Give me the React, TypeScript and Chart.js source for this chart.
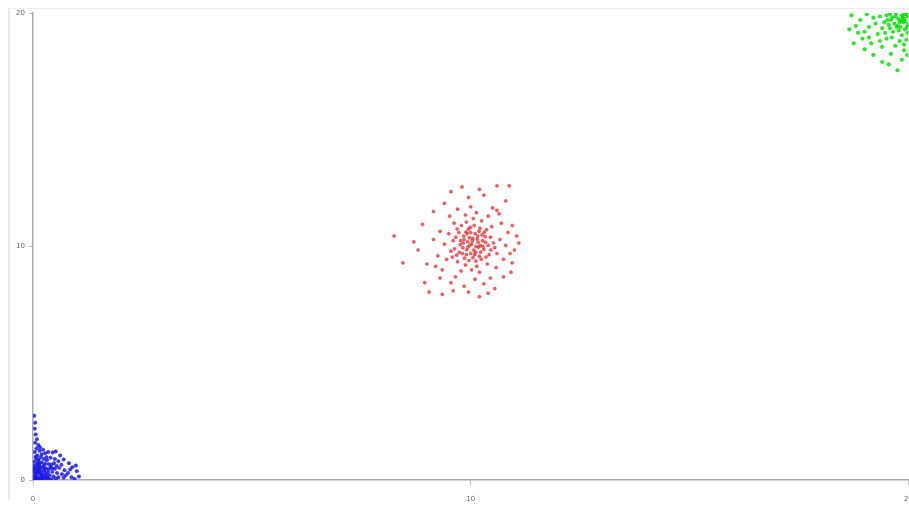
import React, { useEffect, useRef } from "react";
import { Chart, registerables } from "chart.js";

Chart.register(...registerables);

const axisMin = 0;
const axisMax = 20;
const tickStep = 10;

const redPoints: number[][] = [
  [10.02,10.11],[9.91,9.87],[10.15,10.32],[9.84,10.45],[10.23,9.76],[10.05,9.52],[9.76,10.08],[10.31,10.61],[9.95,10.74],[10.12,9.38],
  [9.68,9.63],[10.4,10.05],[10.08,10.9],[9.88,9.21],[10.27,10.25],[9.97,10.38],[10.18,9.97],[9.82,9.95],[10.35,9.55],[9.73,10.6],
  [10.1,10.55],[10.0,9.7],[9.93,10.2],[10.21,10.78],[9.6,10.25],[10.45,10.4],[9.86,9.5],[10.14,9.15],[10.3,9.88],[9.79,10.9],
  [10.52,10.15],[9.55,9.8],[10.06,11.2],[9.9,11.05],[10.25,11.1],[9.7,9.35],[10.38,9.25],[10.6,9.7],[9.5,10.55],[10.02,9.0],
  [9.78,8.95],[10.2,8.9],[10.48,10.85],[9.62,11.0],[10.67,10.3],[9.45,9.45],[10.12,10.0],[9.98,10.05],[10.04,10.25],[9.92,10.55],
  [10.16,10.45],[10.28,10.0],[9.85,10.3],[10.09,9.65],[9.96,9.4],[10.33,10.42],[9.74,9.75],[10.19,10.65],[10.42,9.65],[9.66,10.4],
  [10.55,9.95],[9.58,9.55],[10.0,10.6],[10.24,9.45],[9.83,10.15],[10.36,10.72],[9.69,10.75],[10.13,11.45],[9.88,11.35],[10.4,11.3],
  [9.52,11.3],[10.7,11.0],[10.75,9.45],[9.4,10.1],[9.35,9.0],[10.58,9.1],[10.1,8.6],[9.65,8.7],[10.45,8.65],[9.3,10.65],
  [10.85,10.6],[10.9,9.7],[9.25,9.6],[10.0,11.7],[10.5,11.65],[9.7,11.6],[9.15,10.3],[10.8,10.05],[9.2,9.15],[10.95,10.9],
  [10.65,11.4],[9.55,8.45],[10.3,8.4],[9.85,8.3],[10.05,10.35],[9.94,9.98],[10.17,10.18],[10.07,9.85],[9.89,10.62],[10.26,10.5],
  [9.81,9.7],[10.22,10.05],[10.11,9.75],[9.99,10.82],[10.34,10.18],[9.77,10.25],[10.46,9.85],[9.63,9.9],[10.2,9.58],[9.9,9.65],
  [8.25,10.45],[8.45,9.3],[8.95,8.45],[9.05,8.05],[9.35,7.95],[9.95,8.05],[10.2,7.85],[10.4,8.0],[10.6,12.6],[10.88,12.6],
  [9.55,12.35],[9.95,12.1],[10.3,12.2],[11.05,10.45],[11.1,10.15],[10.95,9.3],[8.9,10.95],[9.15,11.5],[9.4,11.85],[10.8,11.95],
  [10.6,11.55],[9.0,9.25],[8.8,9.85],[9.3,8.65],[10.75,8.7],[10.92,8.9],[11.0,9.85],[10.2,12.45],[9.8,12.55],[8.7,10.2],
  [10.55,8.2],[9.6,8.1]
];

const bluePoints: number[][] = [
  [0.03,2.75],[0.05,2.45],[0.04,2.2],[0.06,1.95],[0.09,1.75],[0.05,1.6],[0.12,1.5],[0.08,1.35],[0.15,1.25],[0.04,1.2],
  [0.2,1.1],[0.1,1.05],[0.28,1.15],[0.35,1.2],[0.45,1.18],[0.52,1.22],[0.62,1.05],[0.18,0.98],[0.07,0.92],[0.25,0.9],
  [0.32,0.85],[0.4,0.95],[0.12,0.82],[0.03,0.78],[0.2,0.75],[0.28,0.7],[0.36,0.68],[0.48,0.72],[0.58,0.8],[0.7,0.88],
  [0.82,0.72],[0.9,0.55],[0.08,0.65],[0.15,0.6],[0.22,0.55],[0.3,0.5],[0.4,0.55],[0.5,0.48],[0.6,0.52],[0.72,0.42],
  [0.05,0.5],[0.12,0.45],[0.18,0.4],[0.26,0.38],[0.34,0.32],[0.44,0.35],[0.55,0.3],[0.66,0.25],[0.8,0.3],[1.0,0.38],
  [0.03,0.35],[0.1,0.3],[0.16,0.25],[0.22,0.22],[0.3,0.18],[0.38,0.2],[0.47,0.15],[0.58,0.12],[0.7,0.1],[0.88,0.12],
  [0.95,0.05],[0.04,0.2],[0.08,0.15],[0.14,0.1],[0.2,0.08],[0.27,0.05],[0.35,0.07],[0.42,0.03],[0.52,0.06],[0.02,0.08],
  [0.06,0.04],[0.11,0.02],[0.17,0.05],[0.24,0.13],[0.32,0.1],[0.14,0.7],[0.06,1.0],[0.1,0.55],[0.19,0.3],[0.25,0.62],
  [0.09,0.4],[0.02,0.6],[0.13,0.88],[0.31,0.98],[0.23,1.3],[0.16,1.4],[0.06,0.28],[0.2,0.18],[0.36,0.45],[0.42,0.65],
  [0.5,0.9],[0.65,0.65],[0.75,0.2],[0.85,0.45],[0.02,0.45],[0.29,0.27],[0.11,0.72],[0.17,0.52],[0.07,0.12],[0.26,0.45],
  [-0.05,-0.08],[0.08,-0.1],[0.44,0.5],[0.54,0.6],[0.13,0.35],[0.04,0.02],[1.05,0.15],[0.98,0.62]
];

const greenPoints: number[][] = [
  [19.95,19.95],[19.85,19.9],[19.9,19.75],[19.8,19.6],[19.7,19.85],[19.6,19.7],[19.75,19.45],[19.92,19.3],[19.55,19.5],[19.5,19.9],
  [19.65,19.2],[19.85,19.05],[19.98,19.5],[19.45,19.6],[19.4,19.35],[19.35,19.85],[19.58,19.95],[19.72,19.98],[19.88,19.6],[19.78,19.25],
  [19.62,18.95],[19.95,18.85],[19.5,18.9],[19.3,19.1],[19.25,19.55],[19.2,19.8],[19.1,19.4],[19.05,19.95],[19.0,19.2],[18.9,19.7],
  [18.8,19.45],[18.7,19.9],[18.95,18.9],[19.15,18.7],[19.4,18.55],[19.7,18.6],[19.9,18.4],[19.6,18.25],[19.85,18.0],[19.55,17.8],
  [19.75,17.55],[19.4,17.9],[19.2,18.2],[18.85,19.15],[18.65,19.3],[19.98,19.15],[19.82,19.4],[19.68,19.55],[19.93,19.65],[19.87,19.8],
  [19.77,19.75],[19.63,19.8],[19.52,19.7],[19.47,19.15],[19.58,19.35],[19.9,18.65],[19.97,18.2],[19.8,18.8],[19.35,18.8],[19.1,18.95],
  [18.75,18.7],[19.0,18.45],[19.98,19.85],[19.92,19.95],[19.83,19.68],[19.73,19.4],[19.97,19.4]
];

const toXY = (pts: number[][]) => pts.map(([x, y]) => ({ x, y }));

export default function App() {
  const ref = useRef<HTMLCanvasElement | null>(null);

  useEffect(() => {
    if (!ref.current) return;
    const tickFont = { family: "DejaVu Sans", size: 7 };
    const chart = new Chart(ref.current, {
      type: "scatter",
      data: {
        datasets: [
          {
            data: toXY(redPoints),
            backgroundColor: "rgba(255,40,40,0.75)",
            borderColor: "rgba(190,30,40,0.6)",
            borderWidth: 0.6,
            pointRadius: 1.6,
          },
          {
            data: toXY(bluePoints),
            backgroundColor: "rgba(25,25,255,0.85)",
            borderColor: "rgba(20,20,200,0.8)",
            borderWidth: 0.6,
            pointRadius: 1.7,
          },
          {
            data: toXY(greenPoints),
            backgroundColor: "rgba(0,235,0,0.85)",
            borderColor: "rgba(0,200,0,0.7)",
            borderWidth: 0.6,
            pointRadius: 1.8,
          },
        ],
      },
      options: {
        animation: false,
        responsive: false,
        maintainAspectRatio: false,
        layout: { padding: { left: 8, top: 13, right: 0, bottom: 0 } },
        plugins: { legend: { display: false }, tooltip: { enabled: false } },
        scales: {
          x: {
            type: "linear",
            min: axisMin,
            max: axisMax,
            grid: { drawOnChartArea: false, color: "#bbb", tickLength: 5 },
            border: { color: "#aaa", width: 1.5 },
            ticks: { stepSize: tickStep, color: "#666", font: tickFont, padding: 10, maxRotation: 0 },
            afterFit: (s: any) => {
              s.height = 28;
              s.paddingLeft = 0;
              s.paddingRight = 0;
            },
          },
          y: {
            type: "linear",
            min: axisMin,
            max: axisMax,
            grid: { drawOnChartArea: false, color: "#bbb", tickLength: 4 },
            border: { color: "#aaa", width: 1.5 },
            ticks: { stepSize: tickStep, color: "#666", font: tickFont, padding: 4 },
            afterFit: (s: any) => {
              s.width = 25;
              s.paddingTop = 0;
              s.paddingBottom = 0;
            },
          },
        },
      },
    });
    return () => chart.destroy();
  }, []);

  return (
    <div style={{ position: "fixed", left: 0, top: 0, width: 909, height: 508, background: "#fff", overflow: "hidden" }}>
      <div
        style={{
          position: "absolute",
          left: 8,
          top: 8,
          right: 0,
          bottom: 8,
          borderTop: "1px solid #eee",
          borderLeft: "2px solid #e8e8e8",
        }}
      />
      <canvas ref={ref} width={913} height={508} style={{ position: "absolute", left: 0, top: 0 }} />
    </div>
  );
}
